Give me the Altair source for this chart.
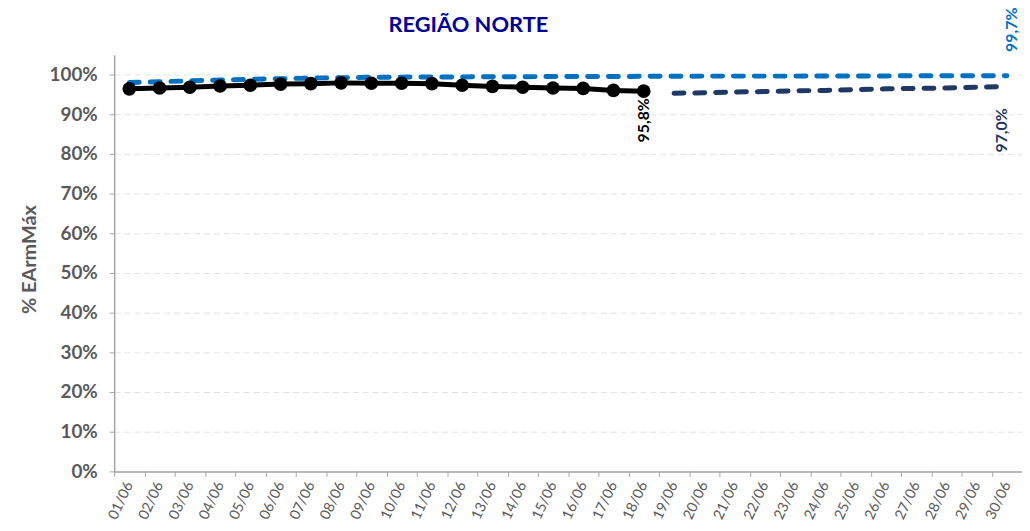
import altair as alt
import pandas as pd

dates = ["01/06", "02/06", "03/06", "04/06", "05/06", "06/06", "07/06", "08/06", "09/06", "10/06",
         "11/06", "12/06", "13/06", "14/06", "15/06", "16/06", "17/06", "18/06", "19/06", "20/06",
         "21/06", "22/06", "23/06", "24/06", "25/06", "26/06", "27/06", "28/06", "29/06", "30/06"]

verified_dates = dates[:18]
verified = [96.4, 96.6, 96.8, 97.1, 97.3, 97.6, 97.7, 97.9, 97.8, 97.8,
            97.7, 97.3, 97.0, 96.8, 96.6, 96.5, 96.0, 95.8]

limit = [98.0, 98.2, 98.4, 98.6, 98.8, 98.95, 99.1, 99.2, 99.3, 99.35,
         99.4, 99.4, 99.45, 99.45, 99.5, 99.5, 99.5, 99.55, 99.55, 99.6,
         99.6, 99.6, 99.6, 99.65, 99.65, 99.65, 99.7, 99.7, 99.7, 99.7]

forecast_dates = dates[18:]
forecast = [95.3, 95.4, 95.6, 95.7, 95.9, 96.0, 96.2, 96.4, 96.5, 96.6, 96.8, 97.0]

y_ticks = [0, 10, 20, 30, 40, 50, 60, 70, 80, 90, 100]

title_text = "REGIÃO NORTE"
y_title = "% EArmMáx"

BLACK = "#000000"
BLUE = "#0070C0"
NAVY = "#1F3864"
GRAY = "#595959"
FONT = "Lato"


def fmt(v):
    return f"{v:.1f}%".replace(".", ",")


df_ver = pd.DataFrame({"date": verified_dates, "value": verified})
df_lim = pd.DataFrame({"date": dates, "value": limit})
df_fc = pd.DataFrame({"date": forecast_dates, "value": forecast})

lab_ver = df_ver.tail(1).assign(label=lambda d: d["value"].map(fmt))
lab_lim = df_lim.tail(1).assign(label=lambda d: d["value"].map(fmt))
lab_fc = df_fc.tail(1).assign(label=lambda d: d["value"].map(fmt))

x_scale = alt.Scale(domain=dates, paddingInner=0, paddingOuter=0)
y_scale = alt.Scale(domain=[0, 105], nice=False)

x_axis = alt.Axis(labelAngle=-65, labelFont=FONT, labelFontSize=14.5,
                  labelColor=GRAY, labelPadding=6, tickBand="extent",
                  tickSize=5, tickColor="#A6A6A6", domainColor="#A6A6A6",
                  domainWidth=1.5, grid=False, labelOverlap=False)
y_axis = alt.Axis(values=y_ticks, labelExpr="datum.value + '%'",
                  labelFont=FONT, labelFontSize=19, labelFontWeight="bold",
                  labelColor=GRAY, labelPadding=12, tickSize=5,
                  tickColor="#A6A6A6", domainColor="#A6A6A6", domainWidth=1.5,
                  grid=True, gridColor="#E3E3E3", gridDash=[6, 4], gridWidth=1,
                  titleFont=FONT, titleFontSize=20, titleFontWeight="bold",
                  titleColor=GRAY, titleX=-85, titleY=206,
                  titleBaseline="middle", titleAngle=-90)

x_enc = alt.X("date:N", scale=x_scale, sort=dates, title=None, axis=x_axis)
y_enc = alt.Y("value:Q", scale=y_scale, title=y_title, axis=y_axis)

lim_line = alt.Chart(df_lim).mark_line(
    color=BLUE, strokeWidth=5, strokeDash=[10, 11], strokeCap="round"
).encode(x=x_enc, y=y_enc)

fc_line = alt.Chart(df_fc).mark_line(
    color=NAVY, strokeWidth=5, strokeDash=[10, 11], strokeCap="round"
).encode(x=x_enc, y=y_enc)

ver_line = alt.Chart(df_ver).mark_line(
    color=BLACK, strokeWidth=5,
    point=alt.OverlayMarkDef(filled=True, color=BLACK, size=190, opacity=1)
).encode(x=x_enc, y=y_enc)

ver_lab = alt.Chart(lab_ver).mark_text(
    angle=270, align="right", baseline="middle", dx=-7, dy=0,
    font=FONT, fontSize=16, fontWeight="bold", color=BLACK
).encode(x=x_enc, y=y_enc, text="label:N")

fc_lab = alt.Chart(lab_fc).mark_text(
    angle=270, align="right", baseline="middle", dx=-22, dy=-5,
    font=FONT, fontSize=16, fontWeight="bold", color=NAVY
).encode(x=x_enc, y=y_enc, text="label:N")

lim_lab = alt.Chart(lab_lim).mark_text(
    angle=270, align="left", baseline="middle", dx=24, dy=5,
    font=FONT, fontSize=16, fontWeight="bold", color=BLUE
).encode(x=x_enc, y=y_enc, text="label:N")

title = alt.Chart(pd.DataFrame({"t": [title_text]})).mark_text(
    font=FONT, fontSize=22, fontWeight="bold", color="#000099",
    align="center", baseline="alphabetic"
).encode(x=alt.value(357), y=alt.value(-23), text="t:N")

chart = alt.layer(
    lim_line, fc_line, ver_line, ver_lab, fc_lab, lim_lab, title
).properties(
    width=915, height=420,
    padding={"left": 107, "top": 45, "right": 0, "bottom": 55},
    autosize=alt.AutoSizeParams(type="none"),
).configure(background="white").configure_view(stroke=None)

chart.save("out.html", embed_options={"renderer": "svg", "actions": False})
